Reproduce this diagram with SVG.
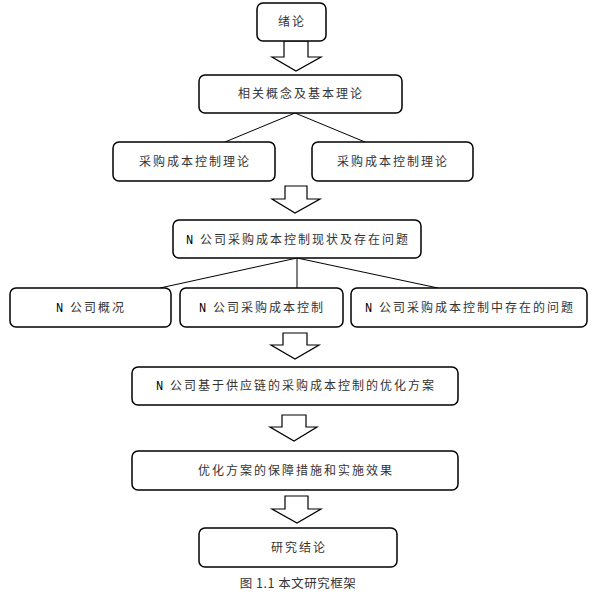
<svg xmlns="http://www.w3.org/2000/svg" width="597" height="597" viewBox="0 0 597 597">
<style>
.box{fill:#fff;stroke:#000;stroke-width:1.5}
.t{font-family:"Noto Sans CJK SC","Noto Sans CJK JP",sans-serif;font-size:12px;letter-spacing:2px;fill:#333;text-anchor:middle}
.n{font-family:"Liberation Mono",monospace;fill:#000}
.arr{fill:#fff;stroke:#000;stroke-width:1.2}
.ln{stroke:#000;stroke-width:1;fill:none}
</style>
<rect width="597" height="597" fill="#fff"/>
<g id="connectors">
<path class="ln" d="M295,113 L225,142 M295,113 L365,142"/>
<path class="ln" d="M297,258 L160,288 M297,258 L438,288"/>
<path class="ln" d="M297,258 L297,288" stroke="#555"/>
<polygon class="arr" points="284,41 308,41 308,57 321,57 296,71 272,57 284,57"/>
<polygon class="arr" points="285,186 307,186 307,199 320,199 295,213 272,199 285,199"/>
<polygon class="arr" points="283,333 307,333 307,345 319,345 295,359 271,345 283,345"/>
<polygon class="arr" points="282,415 306,415 306,427 317,427 294,441 270,427 282,427"/>
<polygon class="arr" points="285,496 308,496 308,509 321,509 297,523 272,509 285,509"/>
</g>
<g id="n1"><rect class="box" x="257" y="3" width="69" height="38" rx="6"/><text class="t" x="292" y="26">绪论</text></g>
<g id="n2"><rect class="box" x="199" y="75" width="203" height="38" rx="6"/><text class="t" x="301" y="98">相关概念及基本理论</text></g>
<g id="n3"><rect class="box" x="113" y="142" width="162" height="39" rx="6"/><text class="t" x="195" y="166">采购成本控制理论</text></g>
<g id="n4"><rect class="box" x="312" y="142" width="161" height="39" rx="6"/><text class="t" x="393" y="166">采购成本控制理论</text></g>
<g id="n5"><rect class="box" x="173" y="220" width="248" height="38" rx="6"/><text class="t" x="298" y="244"><tspan class="n">N</tspan> 公司采购成本控制现状及存在问题</text></g>
<g id="n6"><rect class="box" x="10" y="288" width="161" height="39" rx="6"/><text class="t" x="91" y="312"><tspan class="n">N</tspan> 公司概况</text></g>
<g id="n7"><rect class="box" x="180" y="288" width="163" height="39" rx="6"/><text class="t" x="262" y="312"><tspan class="n">N</tspan> 公司采购成本控制</text></g>
<g id="n8"><rect class="box" x="351" y="288" width="236" height="39" rx="6"/><text class="t" x="470" y="312"><tspan class="n">N</tspan> 公司采购成本控制中存在的问题</text></g>
<g id="n9"><rect class="box" x="132" y="367" width="326" height="38" rx="6"/><text class="t" x="296" y="390"><tspan class="n">N</tspan> 公司基于供应链的采购成本控制的优化方案</text></g>
<g id="n10"><rect class="box" x="132" y="451" width="326" height="39" rx="6"/><text class="t" x="296" y="475">优化方案的保障措施和实施效果</text></g>
<g id="n11"><rect class="box" x="199" y="528" width="198" height="39" rx="6"/><text class="t" x="299" y="552">研究结论</text></g>
<text class="t" x="298" y="588" style="font-size:12.5px;letter-spacing:0.5px">图 1.1 本文研究框架</text>
</svg>
